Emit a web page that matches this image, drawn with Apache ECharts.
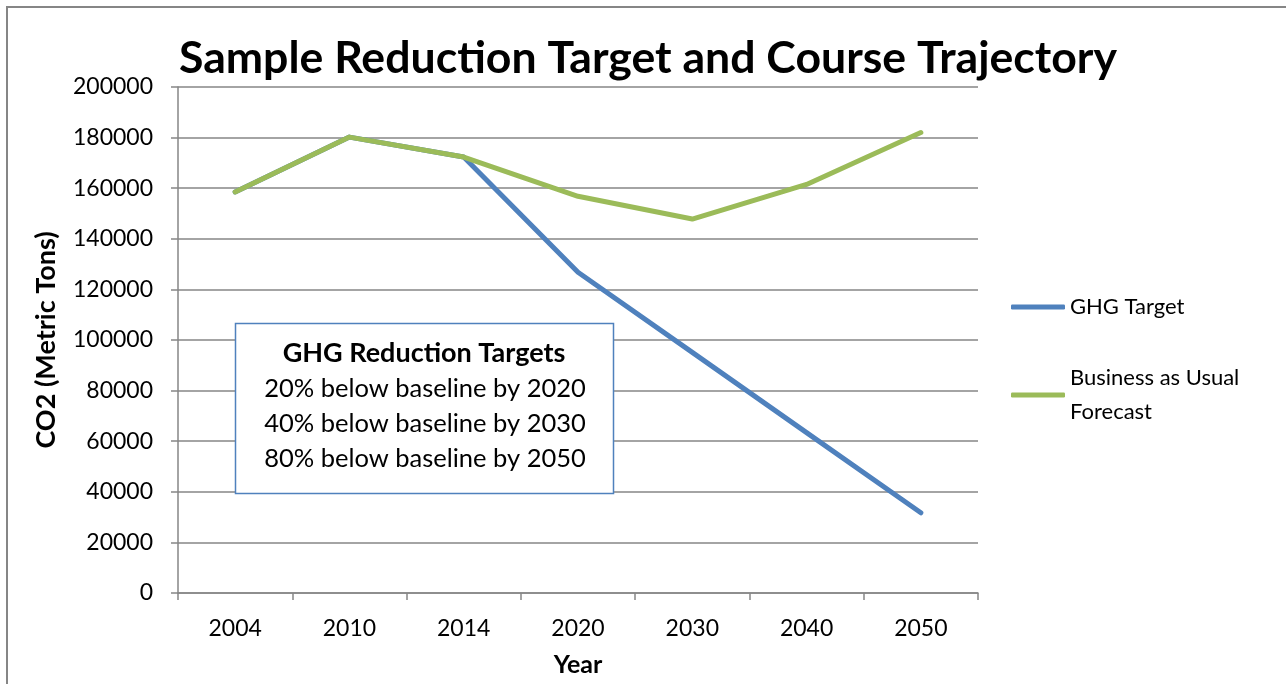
<!DOCTYPE html>
<html>
<head>
<meta charset="utf-8">
<script src="https://cdn.jsdelivr.net/npm/echarts@6/dist/echarts.min.js"></script>
<style>
html, body { margin: 0; padding: 0; background: #fff; }
#chart { width: 1286px; height: 684px; }
</style>
</head>
<body>
<div id="chart"></div>
<script>
// data
var years = ['2004', '2010', '2014', '2020', '2030', '2040', '2050'];
var ghgTarget = [158500, 180200, 172300, 126800, 95100, 63400, 31700];
var businessAsUsual = [158500, 180200, 172300, 156800, 147800, 161500, 182000];
var targetNotes = [
  '20% below baseline by 2020',
  '40% below baseline by 2030',
  '80% below baseline by 2050'
];

var FONT = 'Lato';
var chart = echarts.init(document.getElementById('chart'));

chart.setOption({
  animation: false,
  textStyle: { fontFamily: FONT },
  title: {
    text: 'Sample Reduction Target and Course Trajectory',
    left: 643, top: 31, textAlign: 'center',
    textStyle: { fontFamily: FONT, fontSize: 44.6, fontWeight: 'bold', color: '#000' }
  },
  legend: {
    orient: 'vertical',
    left: 1006, top: 285,
    icon: 'roundRect',
    itemWidth: 54, itemHeight: 5,
    itemGap: 37,
    textStyle: { fontFamily: FONT, fontSize: 22, color: '#000', lineHeight: 34 },
    formatter: function (name) {
      return name === 'Business as Usual' ? 'Business as Usual\nForecast' : name;
    },
    data: ['GHG Target', 'Business as Usual']
  },
  grid: { left: 178, right: 308, top: 87, bottom: 91 },
  xAxis: {
    type: 'category',
    data: years,
    boundaryGap: true,
    name: 'Year',
    nameLocation: 'middle',
    nameGap: 59,
    nameTextStyle: { fontFamily: FONT, fontSize: 25, fontWeight: 'bold', color: '#000' },
    axisLine: { lineStyle: { color: '#868686', width: 1.5 } },
    axisTick: { show: true, length: 7, alignWithLabel: false, lineStyle: { color: '#868686', width: 1.5 } },
    axisLabel: { margin: 24, fontFamily: FONT, fontSize: 23, color: '#000' },
    splitLine: { show: false }
  },
  yAxis: {
    type: 'value',
    min: 0, max: 200000, interval: 20000,
    name: 'CO2 (Metric Tons)',
    nameLocation: 'middle',
    nameGap: 118,
    nameTextStyle: { fontFamily: FONT, fontSize: 27, fontWeight: 'bold', color: '#000' },
    axisLine: { show: true, lineStyle: { color: '#868686', width: 1.5 } },
    axisTick: { show: true, length: 7, lineStyle: { color: '#868686', width: 1.5 } },
    axisLabel: {
      margin: 25, fontFamily: FONT, fontSize: 23, color: '#000',
      formatter: function (v) { return String(v); }
    },
    splitLine: { lineStyle: { color: '#868686', width: 1.5 } }
  },
  series: [
    {
      name: 'GHG Target',
      type: 'line',
      data: ghgTarget,
      symbol: 'none',
      z: 2,
      lineStyle: { color: '#4F81BD', width: 5, cap: 'round', join: 'round' },
      itemStyle: { color: '#4F81BD' }
    },
    {
      name: 'Business as Usual',
      type: 'line',
      data: businessAsUsual,
      symbol: 'none',
      z: 3,
      lineStyle: { color: '#9BBB59', width: 5, cap: 'round', join: 'round' },
      itemStyle: { color: '#9BBB59' }
    }
  ],
  graphic: [
    {
      type: 'rect',
      shape: { x: 7, y: 7, width: 1400, height: 800 },
      style: { fill: 'none', stroke: '#868686', lineWidth: 2 },
      silent: true, z: -10
    },
    {
      type: 'rect',
      z: 100,
      shape: { x: 235.5, y: 323.5, width: 378, height: 170 },
      style: { fill: '#ffffff', stroke: '#4F81BD', lineWidth: 1.5 }
    },
    {
      type: 'text',
      z: 101,
      x: 424, y: 353,
      style: {
        text: 'GHG Reduction Targets',
        fontFamily: FONT, fontSize: 27, fontWeight: 'bold',
        fill: '#000', align: 'center', verticalAlign: 'middle'
      }
    },
    {
      type: 'text',
      z: 101,
      x: 425, y: 424,
      style: {
        text: targetNotes.join('\n'),
        fontFamily: FONT, fontSize: 25.5, lineHeight: 35,
        fill: '#000', align: 'center', verticalAlign: 'middle'
      }
    }
  ]
});
</script>
</body>
</html>
